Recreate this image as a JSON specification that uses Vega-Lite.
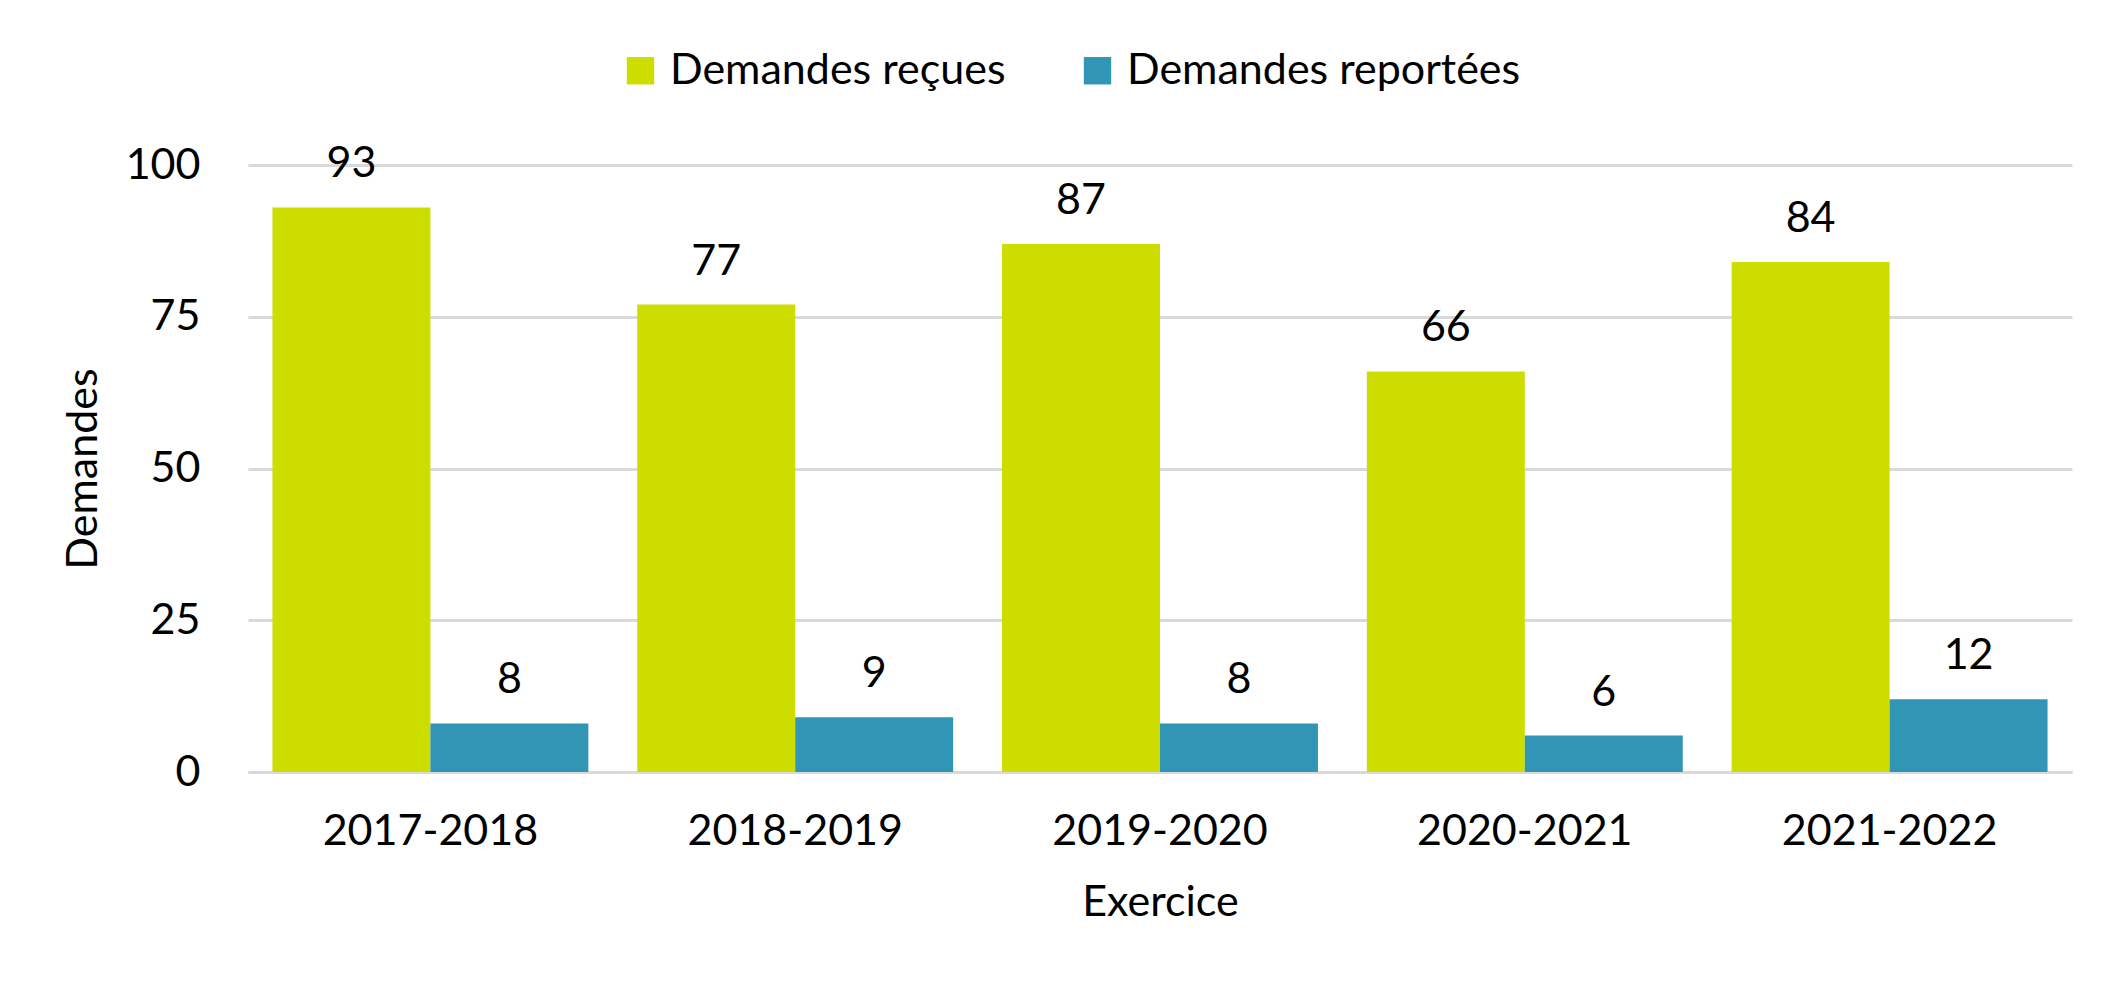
{
  "$schema": "https://vega.github.io/schema/vega-lite/v6.json",
  "autosize": {"type": "none"},
  "padding": {"left": 248, "top": 165, "right": 51, "bottom": 220},
  "width": 1824,
  "height": 607,
  "background": "white",
  "config": {
    "font": "Lato",
    "view": {"stroke": null},
    "axis": {"labelFont": "Lato", "titleFont": "Lato", "labelColor": "black", "titleColor": "black", "titleFontWeight": "normal", "labelFontSize": 43, "titleFontSize": 43, "labelLimit": 0}
  },
  "data": {
    "values": [
      {"exercice": "2017-2018", "serie": "Demandes reçues", "valeur": 93},
      {"exercice": "2017-2018", "serie": "Demandes reportées", "valeur": 8},
      {"exercice": "2018-2019", "serie": "Demandes reçues", "valeur": 77},
      {"exercice": "2018-2019", "serie": "Demandes reportées", "valeur": 9},
      {"exercice": "2019-2020", "serie": "Demandes reçues", "valeur": 87},
      {"exercice": "2019-2020", "serie": "Demandes reportées", "valeur": 8},
      {"exercice": "2020-2021", "serie": "Demandes reçues", "valeur": 66},
      {"exercice": "2020-2021", "serie": "Demandes reportées", "valeur": 6},
      {"exercice": "2021-2022", "serie": "Demandes reçues", "valeur": 84},
      {"exercice": "2021-2022", "serie": "Demandes reportées", "valeur": 12}
    ]
  },
  "encoding": {
    "x": {
      "field": "exercice", "type": "nominal", "sort": null,
      "scale": {"paddingInner": 0.134, "paddingOuter": 0.067},
      "axis": {"title": "Exercice", "labelAngle": 0, "labelPadding": 38, "ticks": false, "domainColor": "#d9d9d9", "domainWidth": 3, "titlePadding": 28}
    },
    "xOffset": {"field": "serie", "type": "nominal", "sort": ["Demandes reçues", "Demandes reportées"], "scale": {"paddingInner": 0, "paddingOuter": 0}},
    "y": {
      "field": "valeur", "type": "quantitative",
      "scale": {"domain": [0, 100], "nice": false},
      "axis": {"title": "Demandes", "values": [0, 25, 50, 75, 100], "ticks": false, "domain": false, "gridColor": "#d9d9d9", "gridWidth": 3, "labelPadding": 48, "titlePadding": 20}
    }
  },
  "layer": [
    {
      "mark": {"type": "bar"},
      "encoding": {
        "color": {
          "field": "serie", "type": "nominal", "sort": ["Demandes reçues", "Demandes reportées"],
          "scale": {"domain": ["Demandes reçues", "Demandes reportées"], "range": ["#cddd00", "#3196b5"]},
          "legend": {
            "title": null, "orient": "none", "direction": "horizontal", "legendX": 371, "legendY": -116,
            "symbolType": "square", "symbolSize": 750, "symbolStrokeWidth": 0, "labelFont": "Lato", "labelFontSize": 43, "labelColor": "black", "labelLimit": 0,
            "columnPadding": 70, "labelOffset": 8
          }
        }
      }
    },
    {
      "mark": {"type": "text", "baseline": "alphabetic", "dy": -30, "fontSize": 43, "font": "Lato", "color": "black"},
      "encoding": {"text": {"field": "valeur", "type": "quantitative"}}
    }
  ]
}
